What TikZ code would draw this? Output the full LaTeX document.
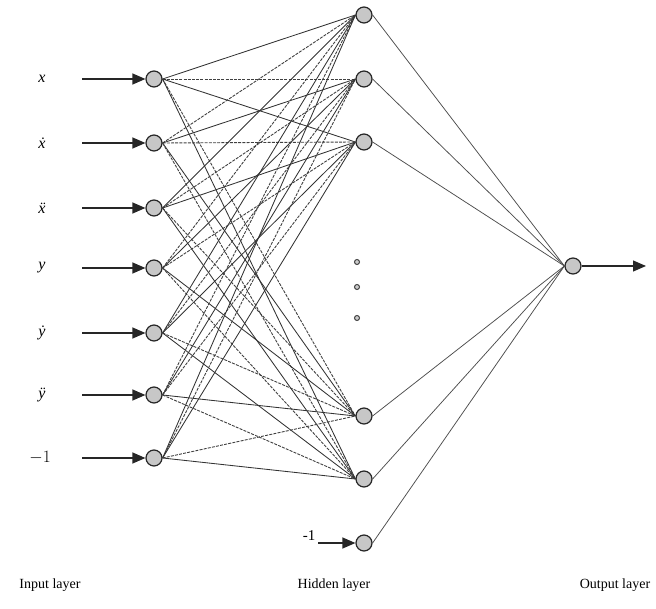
\documentclass[tikz,border=0pt]{standalone}
\usepackage{fontspec}
\setmainfont{Liberation Serif}
\usetikzlibrary{arrows.meta}
\begin{document}
\begin{tikzpicture}[x=1pt,y=-1pt,
  neuron/.style={circle,draw=black!85,line width=1.2pt,fill=black!22,minimum size=16pt,inner sep=0pt},
  smalldot/.style={circle,draw=black!75,line width=1pt,fill=black!20,minimum size=5pt,inner sep=0pt},
  feed/.style={-{Triangle[length=13pt,width=11pt]},line width=1.2pt,draw=black!85},
  wsolid/.style={line width=0.85pt,draw=black!80},
  wdash/.style={line width=0.9pt,draw=black!75,dash pattern=on 3pt off 1.2pt},
  wout/.style={line width=0.75pt,draw=black!70},
  inlabel/.style={font=\fontsize{16}{16}\selectfont\itshape},
  layerlabel/.style={font=\fontsize{14}{14}\selectfont}]
\useasboundingbox (0,0) rectangle (656,609);

% input layer
\foreach \n/\y in {1/79,2/143,3/208,4/268,5/333,6/395,7/458}
  \node[neuron] (i\n) at (154,\y) {};
\foreach \n/\t in {1/x,2/ẋ,3/ẍ,4/y,5/ẏ,6/ÿ}
  \node[inlabel] (l\n) at (42,0 |- i\n) {\t};
\node[font=\fontsize{16}{16}\selectfont] (l7) at (40,0 |- i7) {$-1$};
\foreach \n in {1,...,7}
  \coordinate (s\n) at (82,0 |- i\n);
\foreach \n in {1,...,7}
  \draw[feed] (s\n) -- (i\n.west);

% hidden layer
\foreach \n/\y in {1/15,2/79,3/142,4/416,5/479,6/543}
  \node[neuron] (h\n) at (364,\y) {};
\node[smalldot] (d1) at (357,262) {};
\node[smalldot] (d2) at (357,287) {};
\node[smalldot] (d3) at (357,318) {};
\node[font=\fontsize{15}{15}\selectfont] (hb) at (309,536) {-1};
\coordinate (hbs) at (318,543);
\draw[feed] (hbs) -- (h6.west);

% output layer
\node[neuron] (o) at (573,266) {};
\coordinate (oe) at (646,266);
\draw[feed] (o.east) -- (oe);

% weights input -> hidden
\foreach \i in {1,...,7}
  \foreach \h in {1,...,5}{
    \pgfmathtruncatemacro{\m}{mod(\i+\h,2)}
    \ifnum\m=0
      \draw[wsolid] (i\i.east) -- (h\h.west);
    \else
      \draw[wdash] (i\i.east) -- (h\h.west);
    \fi
  }

% weights hidden -> output
\foreach \h in {1,...,6}
  \draw[wout] (h\h.east) -- (o.west);

% layer captions
\node[layerlabel] (cin) at (50,585) {Input layer};
\node[layerlabel] (chid) at (334,585) {Hidden layer};
\node[layerlabel] (cout) at (615,585) {Output layer};
\end{tikzpicture}
\end{document}
